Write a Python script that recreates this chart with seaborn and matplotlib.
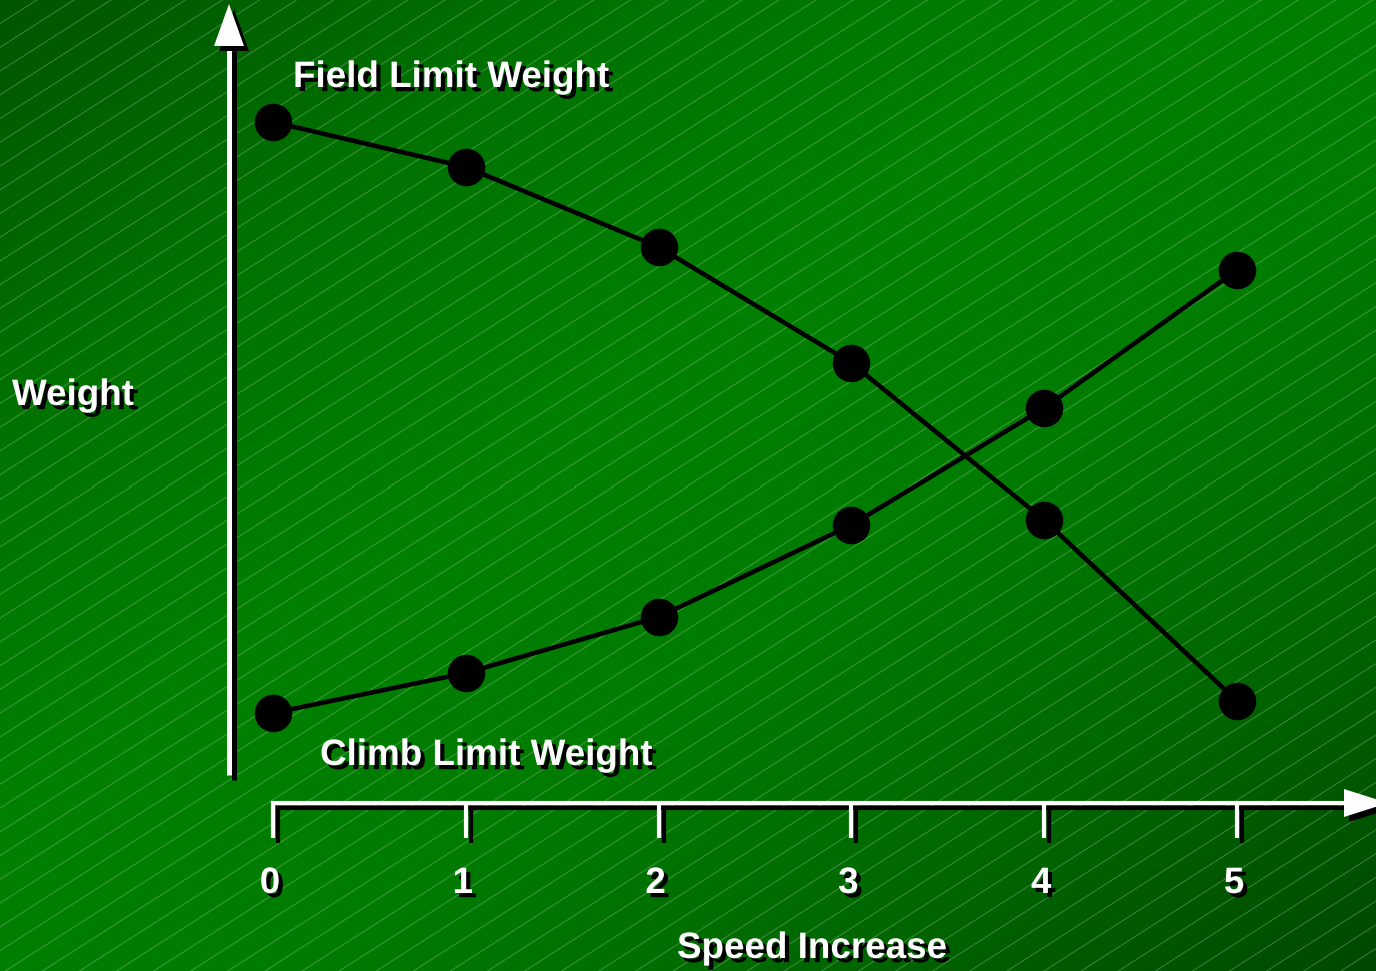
import numpy as np
import pandas as pd
import matplotlib
matplotlib.use("Agg")
import matplotlib.pyplot as plt
import matplotlib.patheffects as pe
import matplotlib.transforms as mtransforms
import seaborn as sns

# ---- data -------------------------------------------------------------
speed = [0, 1, 2, 3, 4, 5]
field_limit = [6.83, 6.38, 5.58, 4.42, 2.85, 1.04]
climb_limit = [0.92, 1.32, 1.88, 2.80, 3.97, 5.35]
tick_labels = ["0", "1", "2", "3", "4", "5"]
series_names = ["Field Limit Weight", "Climb Limit Weight"]

df = pd.DataFrame({
    "speed": speed * 2,
    "weight": field_limit + climb_limit,
    "series": [series_names[0]] * len(speed) + [series_names[1]] * len(speed),
})

# ---- figure -----------------------------------------------------------
W, H, DPI = 1376, 971, 100
sns.set_theme(style="white")
plt.rcParams["font.family"] = ["Liberation Sans", "DejaVu Sans"]

fig = plt.figure(figsize=(W / DPI, H / DPI), dpi=DPI)
ax = fig.add_axes([0, 0, 1, 1])
ax.set_axis_off()

# data -> pixel mapping of the plotting area
X0_PX, X_STEP_PX = 273, 192.8
Y0_PX, Y_STEP_PX = 805, 100.0
XLIM = (-X0_PX / X_STEP_PX, (W - X0_PX) / X_STEP_PX)
YLIM = ((Y0_PX - H) / Y_STEP_PX, Y0_PX / Y_STEP_PX)


def px(x, y):
    """Pixel position (from top-left) -> axes fraction."""
    return x / W, 1 - y / H


# ---- background: diagonal green gradient with fine diagonal hatching ----
yy, xx = np.mgrid[0:H, 0:W].astype(float)
t = (xx / W + yy / H) / 2
g = np.interp(t, [0.0, 0.22, 0.42, 0.6, 0.8, 1.0],
              [0x55, 0x72, 0x80, 0x7c, 0x66, 0x48]) / 255.0
slope = 0.64
u = (slope * xx + yy) / np.hypot(slope, 1)
spacing = 20.0
dist = np.abs(((u + spacing / 2) % spacing) - spacing / 2)
a = np.clip(1 - dist, 0, 1) * 0.34
bg = np.zeros((H, W, 3))
bg[..., 0] = a * 0.7
bg[..., 1] = g * (1 - a) + a * 0.85
bg[..., 2] = a * 0.7
ax.imshow(bg, extent=[0, 1, 0, 1], transform=ax.transAxes,
          aspect="auto", zorder=0, interpolation="nearest")

shadow_pt = 3.6
line_fx = [pe.SimpleLineShadow(offset=(shadow_pt, -shadow_pt),
                               shadow_color="black", alpha=1), pe.Normal()]
patch_fx = [pe.SimplePatchShadow(offset=(shadow_pt, -shadow_pt),
                                 shadow_rgbFace="black", alpha=1), pe.Normal()]
text_fx = [pe.SimplePatchShadow(offset=(3, -3), shadow_rgbFace="black",
                                alpha=1), pe.Normal()]


def arrow(p0, p1, head_len, head_half, lw):
    """White arrow with a hard black drop shadow, pixel coordinates."""
    (x0, y0), (x1, y1) = p0, p1
    d = np.array([x1 - x0, y1 - y0], float)
    d /= np.hypot(*d)
    n = np.array([-d[1], d[0]])
    base = np.array([x1, y1]) - d * head_len
    ax.plot(*zip(px(x0, y0), px(*base)), transform=ax.transAxes,
            color="white", lw=lw, solid_capstyle="butt", zorder=3,
            path_effects=line_fx)
    pts = [np.array([x1, y1]), base + n * head_half, base - n * head_half]
    xs, ys = zip(*[px(*p) for p in pts])
    ax.fill(xs, ys, transform=ax.transAxes, color="white", lw=0,
            zorder=3, path_effects=patch_fx)


# ---- axes drawn as white arrows ---------------------------------------
arrow((229, 775), (229, 4), head_len=42, head_half=15, lw=3.6)
arrow((271, 803), (1388, 803), head_len=44, head_half=14, lw=3.0)

# tick marks hanging below the x axis
blend = mtransforms.blended_transform_factory(ax.transData, ax.transAxes)
for xv in speed:
    ax.plot([xv, xv], [1 - 801.5 / H, 1 - 838 / H], transform=blend,
            color="white", lw=3.0, solid_capstyle="butt", zorder=3,
            path_effects=line_fx)

label_shift = mtransforms.offset_copy(blend, fig=fig, x=-3, y=0, units="dots")
for xv, lab in zip(speed, tick_labels):
    ax.text(xv, 1 - 893 / H, lab, transform=label_shift, ha="center",
            va="baseline", color="white", fontsize=26.5, fontweight="bold",
            path_effects=text_fx, zorder=4)

# ---- the two weight curves --------------------------------------------
sns.lineplot(data=df, x="speed", y="weight", hue="series",
             palette=["black", "black"], marker="o", markersize=27,
             markeredgewidth=0, linewidth=3.3, legend=False, sort=False,
             ax=ax, zorder=5)
ax.set_xlim(*XLIM)
ax.set_ylim(*YLIM)
ax.set_axis_off()

# ---- labels -----------------------------------------------------------
label_kw = dict(transform=ax.transAxes, color="white", fontsize=26.5,
                fontweight="bold", va="baseline", ha="left",
                path_effects=text_fx, zorder=6)
ax.text(*px(293, 87), "Field Limit Weight", **label_kw)
ax.text(*px(320, 765), "Climb Limit Weight", **label_kw)
ax.text(*px(12, 405), "Weight", **label_kw)
ax.text(*px(677, 958), "Speed Increase", **label_kw)

fig.savefig("out.png", dpi=DPI)
